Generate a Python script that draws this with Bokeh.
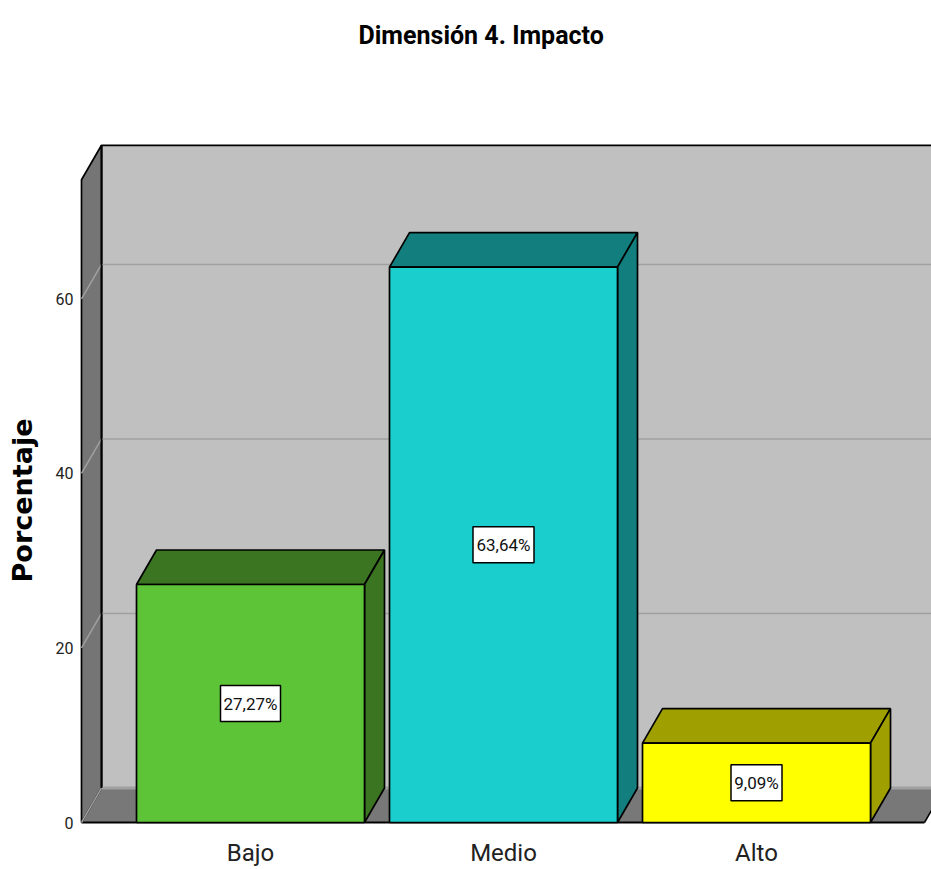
from math import pi

from bokeh.core.properties import value
from bokeh.embed import file_html
from bokeh.models import ColumnDataSource, FixedTicker
from bokeh.plotting import figure
from bokeh.resources import INLINE

# Chart content
chart_title = "Dimensión 4. Impacto"
y_title = "Porcentaje"
categories = ["Bajo", "Medio", "Alto"]
percentages = [27.27, 63.64, 9.09]
y_ticks = [0, 20, 40, 60]
front_colors = ["#5EC437", "#1BCECE", "#FFFF00"]
shade_colors = ["#3B7522", "#127E7E", "#A09F00"]

# Pixel scale of the plot and the depth of the 3D box
PX_X = 253.0
PX_Y = 8.727
DEPTH_X = 20 / PX_X
DEPTH_Y = 34.5 / PX_Y
BAR_W = 228 / PX_X
WALL_LEFT = 1 - 169 / PX_X
WALL_TOP = 77.6
FLOOR_RIGHT = 1 + 674 / PX_X
EDGE = 1.7

FONT = "Roboto"

# The frame spans the full width so the vertical title can sit far to the left
p = figure(
    width=931, height=869,
    x_range=(1 - 250 / PX_X, 1 + 681 / PX_X),
    y_range=(-12 / PX_Y, 770 / PX_Y),
    output_backend="svg", toolbar_location=None,
    min_border_left=0, min_border_right=0, min_border_bottom=35, min_border_top=52,
    outline_line_color=None, background_fill_color="white",
)
p.grid.visible = False

# Title
p.title.text = chart_title
p.title.text_font = FONT
p.title.text_font_style = "bold"
p.title.text_font_size = "25px"
p.title.text_color = "black"
p.title.align = "left"
p.title.offset = 358
p.title.standoff = 5

# Axes
p.yaxis.fixed_location = 1 - 174 / PX_X
p.yaxis.ticker = FixedTicker(ticks=y_ticks)
p.yaxis.axis_line_color = None
p.yaxis.major_tick_line_color = None
p.yaxis.minor_tick_line_color = None
p.yaxis.major_tick_in = 0
p.yaxis.major_tick_out = 0
p.yaxis.major_label_standoff = 3
p.yaxis.major_label_text_font = FONT
p.yaxis.major_label_text_font_size = "16px"
p.yaxis.major_label_text_color = "#222222"

p.xaxis.ticker = FixedTicker(ticks=[1, 2, 3])
p.xaxis.major_label_overrides = {i + 1: c for i, c in enumerate(categories)}
p.xaxis.axis_line_color = None
p.xaxis.major_tick_line_color = None
p.xaxis.minor_tick_line_color = None
p.xaxis.major_tick_in = 0
p.xaxis.major_tick_out = 0
p.xaxis.major_label_standoff = 4
p.xaxis.major_label_text_font = FONT
p.xaxis.major_label_text_font_size = "24px"
p.xaxis.major_label_text_color = "#222222"

# Vertical axis title
p.text(
    [1 - 228 / PX_X], [322 / PX_Y], text=[y_title], angle=pi / 2,
    text_font=value("DejaVu Sans"), text_font_style="bold", text_font_size="27px",
    text_color="black", text_align="center", text_baseline="middle",
)

# Back wall
wall_right = 5.0
p.patch(
    [WALL_LEFT + DEPTH_X, wall_right, wall_right, WALL_LEFT + DEPTH_X],
    [DEPTH_Y, DEPTH_Y, WALL_TOP, WALL_TOP],
    fill_color="#C0C0C0", line_color="black", line_width=EDGE,
)

# Floor and left wall
p.patch(
    [WALL_LEFT, FLOOR_RIGHT, FLOOR_RIGHT + DEPTH_X, WALL_LEFT + DEPTH_X],
    [0, 0, DEPTH_Y, DEPTH_Y],
    fill_color="#787878", line_color=None,
)
p.patch(
    [WALL_LEFT, WALL_LEFT + DEPTH_X, WALL_LEFT + DEPTH_X, WALL_LEFT],
    [0, DEPTH_Y, WALL_TOP, WALL_TOP - DEPTH_Y],
    fill_color="#757575", line_color="black", line_width=EDGE,
)
p.line([WALL_LEFT, FLOOR_RIGHT], [0, 0], line_color="black", line_width=2.2)
p.line([FLOOR_RIGHT, FLOOR_RIGHT + DEPTH_X], [0, DEPTH_Y], line_color="black", line_width=1.5)

# Gridlines along the back wall and down the left wall
for tick in y_ticks:
    p.line(
        [WALL_LEFT + DEPTH_X, wall_right],
        [tick + DEPTH_Y, tick + DEPTH_Y],
        line_color="#A0A0A0", line_width=3 if tick == 0 else 1.5,
    )
    p.line(
        [WALL_LEFT, WALL_LEFT + DEPTH_X],
        [tick, tick + DEPTH_Y],
        line_color="#A0A0A0", line_width=1.5,
    )
p.line(
    [WALL_LEFT + DEPTH_X, WALL_LEFT + DEPTH_X],
    [DEPTH_Y, WALL_TOP],
    line_color="black", line_width=EDGE,
)

# 3D bars: top face, side face and front face
for i, (pct, front, shade) in enumerate(zip(percentages, front_colors, shade_colors)):
    left = i + 1 - BAR_W / 2
    right = i + 1 + BAR_W / 2
    p.patch(
        [left, right, right + DEPTH_X, left + DEPTH_X],
        [pct, pct, pct + DEPTH_Y, pct + DEPTH_Y],
        fill_color=shade, line_color="black", line_width=EDGE,
    )
    p.patch(
        [right, right + DEPTH_X, right + DEPTH_X, right],
        [0, DEPTH_Y, pct + DEPTH_Y, pct],
        fill_color=shade, line_color="black", line_width=EDGE,
    )
    p.patch(
        [left, right, right, left],
        [0, 0, pct, pct],
        fill_color=front, line_color="black", line_width=EDGE,
    )

# Value labels in white boxes, centred on each bar
label_source = ColumnDataSource(dict(
    x=[i + 1 for i in range(len(percentages))],
    y=[v / 2 for v in percentages],
    text=[f"{v:.2f}%".replace(".", ",") for v in percentages],
    box_w=[60, 61, 51],
))
p.rect(
    "x", "y", width="box_w", height=36, width_units="screen", height_units="screen",
    source=label_source, fill_color="white", line_color="black", line_width=1.5,
)
p.text(
    "x", "y", text="text", source=label_source,
    text_align="center", text_baseline="middle",
    text_font=value(FONT), text_font_size="17px", text_color="#111111",
)

open("out.html", "w").write(file_html(p, INLINE))
